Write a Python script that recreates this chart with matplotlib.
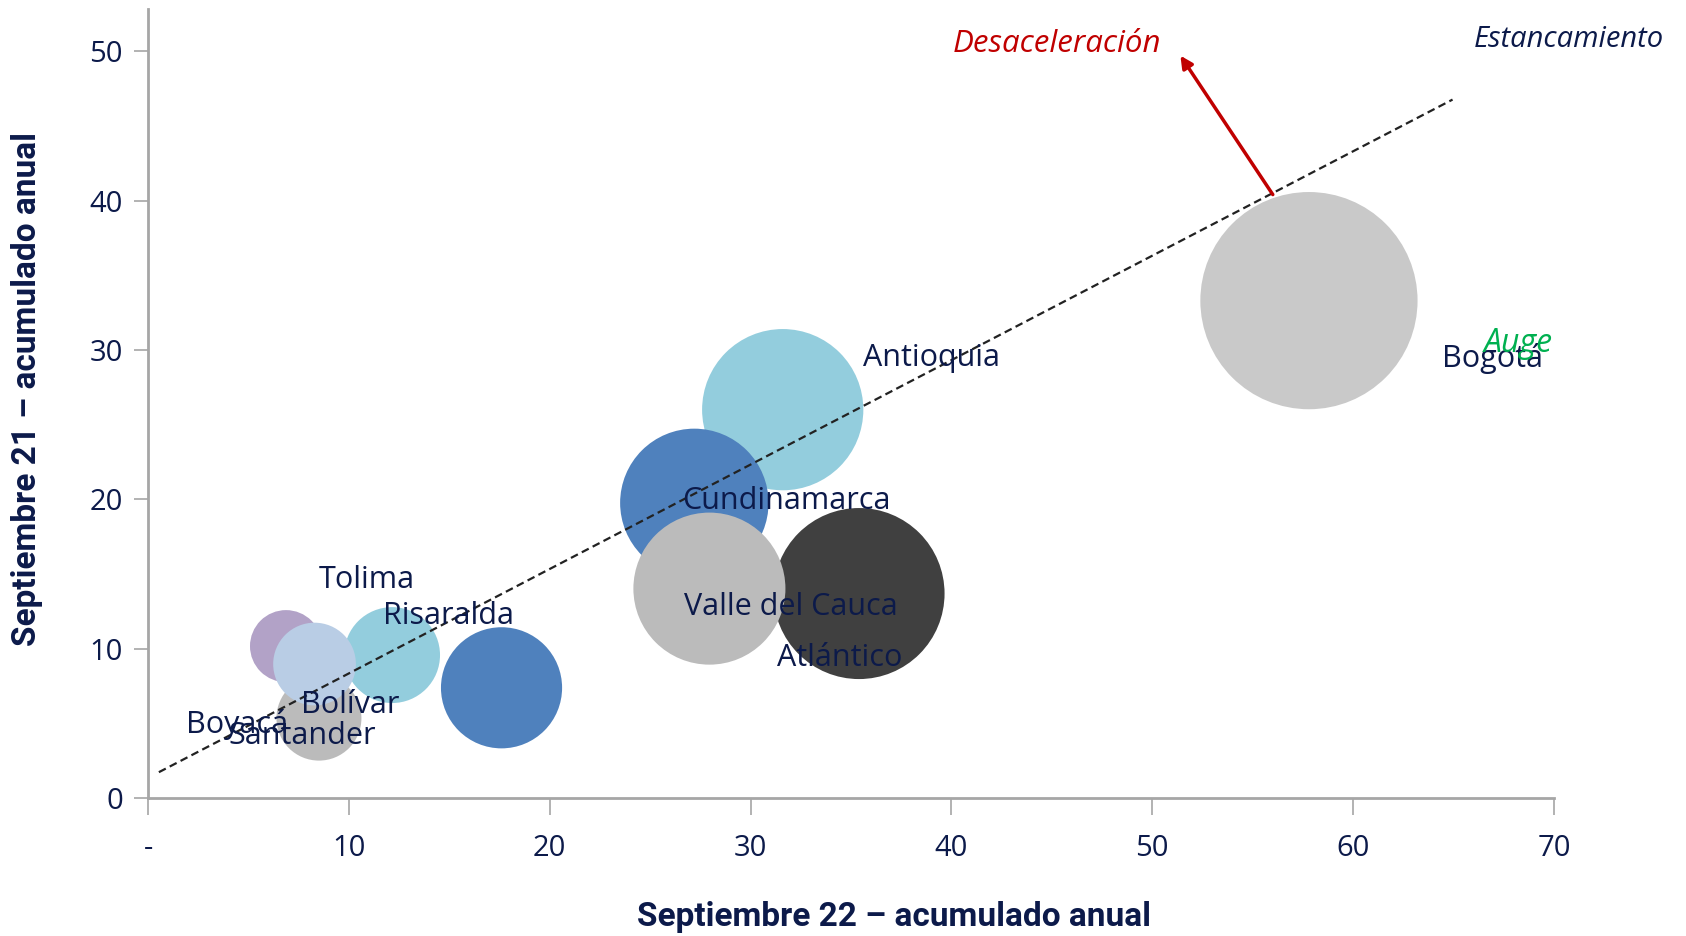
import matplotlib
matplotlib.use("Agg")
import matplotlib.pyplot as plt

# bubble data: x = Sep-22 YTD, y = Sep-21 YTD, size = relative bubble area
x_vals = [57.8, 31.6, 27.2, 35.4, 27.95, 17.6, 12.15, 6.87, 8.29, 8.51]
y_vals = [33.3, 26.0, 19.76, 13.69, 14.02, 7.38, 9.57, 10.17, 8.97, 5.35]
sizes = [100, 55.1, 46.7, 62.0, 49.0, 31.1, 19.5, 11.0, 14.5, 15.3]
colors = ["#C9C9C9", "#93CDDD", "#4F81BD", "#404040", "#BBBBBB",
          "#4F81BD", "#93CDDD", "#B2A2C7", "#B9CDE5", "#BBBBBB"]

# data labels (as placed in the original)
labels = ["Bogotá", "Antioquia", "Cundinamarca", "Atlántico", "Valle del Cauca",
          "Tolima", "Risaralda", "Bolívar", "Santander", "Boyacá"]
label_x = [64.4, 35.6, 26.6, 31.3, 26.7, 8.5, 11.7, 7.6, 4.0, 1.9]
label_y = [29.45, 29.45, 19.9, 9.4, 12.8, 14.6, 12.2, 6.2, 4.15, 4.9]

# trend line and arrow
trend_x = [0.54, 64.95]
trend_y = [1.73, 46.76]
arrow_start = (56.0, 40.4)
arrow_end = (51.4, 49.7)

xticks = [0, 10, 20, 30, 40, 50, 60, 70]
xtick_labels = ["-", "10", "20", "30", "40", "50", "60", "70"]
yticks = [0, 10, 20, 30, 40, 50]

NAVY = "#0C1A4A"
AXIS = "#A6A6A6"
TITLE_FONT = ["Roboto", "DejaVu Sans"]
LABEL_FONT = ["Open Sans", "DejaVu Sans"]

fig = plt.figure(figsize=(16.86, 9.36), dpi=100)
ax = fig.add_axes([0.0878, 0.1474, 0.8339, 0.8426])

# bubble area in pt^2 per unit of size
scale = 244.6
draw_order = [0, 1, 2, 3, 4, 5, 7, 9, 6, 8]
for i in draw_order:
    ax.scatter(x_vals[i], y_vals[i], s=sizes[i] * scale, color=colors[i],
               edgecolors="none", zorder=2)

ax.plot(trend_x, trend_y, color="#222222", linestyle=(0, (3.5, 2)),
        linewidth=1.6, zorder=4, clip_on=False)

for lab, lx, ly in zip(labels, label_x, label_y):
    ax.text(lx, ly, lab, fontsize=22, color=NAVY, family=LABEL_FONT,
            va="center", ha="left", zorder=5)

ax.annotate("", xy=arrow_end, xytext=arrow_start,
            arrowprops=dict(arrowstyle="-|>", color="#C00000", lw=2.5,
                            mutation_scale=18, shrinkA=0, shrinkB=0),
            zorder=6, annotation_clip=False)

ax.text(40.06, 50.5, "Desaceleración", fontsize=22.5, color="#C00000",
        style="italic", family=LABEL_FONT, va="center", ha="left")
ax.text(66.0, 50.8, "Estancamiento", fontsize=21, color=NAVY,
        style="italic", family=LABEL_FONT, va="center", ha="left",
        clip_on=False)
ax.text(66.5, 30.4, "Auge", fontsize=23, color="#00B050",
        style="italic", family=LABEL_FONT, va="center", ha="left", zorder=6)

ax.set_xlim(0, 70)
ax.set_ylim(0, 52.8)
ax.set_xticks(xticks)
ax.set_xticklabels(xtick_labels, fontsize=21, color=NAVY, family=LABEL_FONT)
ax.set_yticks(yticks)
ax.set_yticklabels([str(v) for v in yticks], fontsize=21, color=NAVY,
                   family=LABEL_FONT)
ax.tick_params(axis="x", length=12, width=1.2, color=AXIS, pad=14)
ax.tick_params(axis="y", length=10, width=1.2, color=AXIS, pad=8)

for side in ["top", "right"]:
    ax.spines[side].set_visible(False)
for side in ["left", "bottom"]:
    ax.spines[side].set_color(AXIS)
    ax.spines[side].set_linewidth(2)

fig.text(0.53, 0.003, "Septiembre 22 – acumulado anual", fontsize=24,
         fontweight="bold", color=NAVY, family=TITLE_FONT, ha="center",
         va="bottom")
fig.text(0.016, 0.584, "Septiembre 21 – acumulado anual", fontsize=24,
         fontweight="bold", color=NAVY, family=TITLE_FONT, ha="center",
         va="center", rotation=90)

fig.savefig("out.png", dpi=100)
